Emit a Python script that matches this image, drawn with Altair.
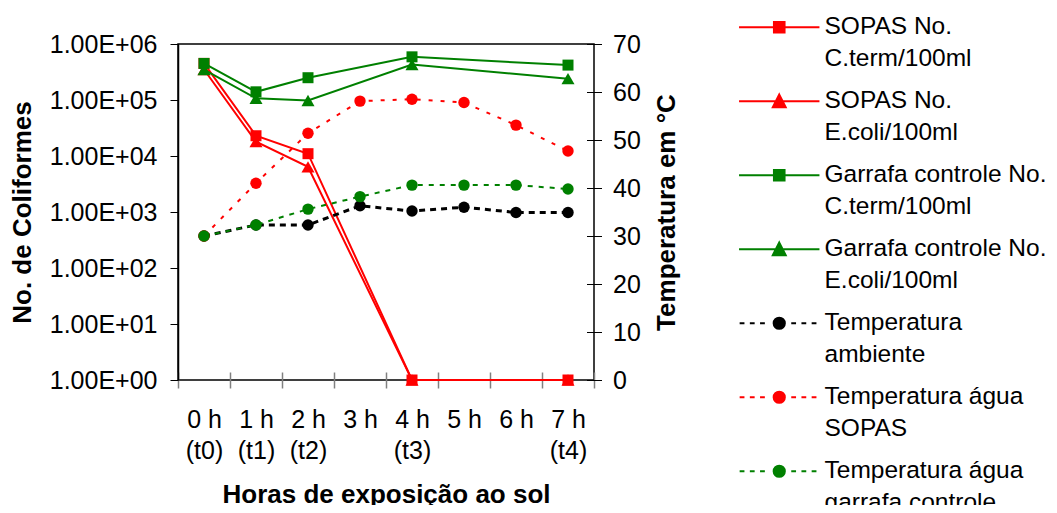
import altair as alt
import pandas as pd

# ---------------- data ----------------
horas = ["0 h", "1 h", "2 h", "3 h", "4 h", "5 h", "6 h", "7 h"]
tempos = ["(t0)", "(t1)", "(t2)", "", "(t3)", "", "", "(t4)"]
x_cats = [f"{h}|{t}" for h, t in zip(horas, tempos)]

# coliform sampling hours (t0..t4)
col_horas = [0, 1, 2, 4, 7]
sopas_cterm = [4.5e5, 2.3e4, 1.1e4, 1, 1]
sopas_ecoli = [3.5e5, 1.8e4, 6.4e3, 1, 1]
garrafa_cterm = [4.5e5, 1.4e5, 2.5e5, 5.9e5, 4.2e5]
garrafa_ecoli = [3.5e5, 1.07e5, 9.8e4, 4.3e5, 2.4e5]

# temperatures, every hour
temp_ambiente = [30, 32.3, 32.3, 36.3, 35.2, 36.0, 34.9, 34.9]
temp_sopas = [30, 41, 51.4, 58.1, 58.5, 57.8, 53.1, 47.7]
temp_garrafa = [30, 32.3, 35.6, 38.2, 40.6, 40.6, 40.6, 39.8]

serie_names = [
    "SOPAS No.|C.term/100ml",
    "SOPAS No.|E.coli/100ml",
    "Garrafa controle No.|C.term/100ml",
    "Garrafa controle No.|E.coli/100ml",
    "Temperatura|ambiente",
    "Temperatura água|SOPAS",
    "Temperatura água|garrafa controle",
]
serie_colors = ["#ff0000", "#ff0000", "#008000", "#008000", "#000000", "#ff0000", "#008000"]

FONT = "Liberation Sans"

# ---------------- encodings ----------------
X = alt.X(
    "x:N",
    sort=x_cats,
    scale=alt.Scale(type="band", domain=x_cats, paddingInner=0, paddingOuter=0),
    axis=alt.Axis(
        title="Horas de exposição ao sol",
        labelExpr="split(datum.label, '|')",
        labelAngle=0,
        tickBand="extent",
        tickSize=16,
        offset=-8,
        domain=False,
        labelPadding=19,
        labelBaseline="top",
        labelLineHeight=31,
        labelFontSize=25,
        titleFontSize=26,
        titlePadding=18,
        titleFontWeight="bold",
        tickColor="#808080",
        tickWidth=1.5,
        labelColor="black",
        titleColor="black",
        grid=False,
    ),
)

Y_COL = alt.Y(
    "valor:Q",
    scale=alt.Scale(type="log", domain=[1, 1e6], nice=False),
    axis=alt.Axis(
        title="No. de Coliformes",
        values=[1, 10, 100, 1000, 10000, 100000, 1000000],
        labelExpr="'1.00E+0' + round(log(datum.value) / LN10)",
        tickSize=8,
        labelPadding=13,
        labelFontSize=25,
        titleFontSize=26,
        titleFontWeight="bold",
        titlePadding=14,
        domainColor="black",
        domainWidth=1.5,
        tickColor="black",
        labelColor="black",
        titleColor="black",
        grid=False,
    ),
)

Y_TEMP = alt.Y(
    "valor:Q",
    scale=alt.Scale(domain=[0, 70], nice=False),
    axis=alt.Axis(
        orient="right",
        title="Temperatura em °C",
        titleAngle=270,
        titleBaseline="top",
        values=[0, 10, 20, 30, 40, 50, 60, 70],
        tickSize=15,
        offset=-7.5,
        domain=False,
        labelPadding=11,
        labelAlign="left",
        labelFontSize=25,
        titleFontSize=26,
        titleFontWeight="bold",
        titlePadding=13,
        tickColor="black",
        labelColor="black",
        titleColor="black",
        grid=False,
    ),
)


def col_df(vals):
    return pd.DataFrame({"x": [x_cats[i] for i in col_horas], "valor": vals})


def temp_df(vals):
    return pd.DataFrame({"x": x_cats, "valor": vals})


col_series = [
    (sopas_cterm, "#ff0000", "square", 121),
    (sopas_ecoli, "#ff0000", "triangle-up", 170),
    (garrafa_cterm, "#008000", "square", 121),
    (garrafa_ecoli, "#008000", "triangle-up", 170),
]
col_layers = []
for vals, c, shp, sz in col_series:
    base = alt.Chart(col_df(vals))
    col_layers.append(base.mark_line(color=c, strokeWidth=2).encode(x=X, y=Y_COL))
    col_layers.append(
        base.mark_point(shape=shp, filled=True, color=c, size=sz, opacity=1).encode(x=X, y=Y_COL)
    )

temp_series = [
    (temp_ambiente, "#000000", [6, 5], 3),
    (temp_sopas, "#ff0000", [4, 8], 2),
    (temp_garrafa, "#008000", [5, 6], 2),
]
temp_layers = []
for vals, c, dash, sw in temp_series:
    base = alt.Chart(temp_df(vals))
    temp_layers.append(
        base.mark_line(color=c, strokeWidth=sw, strokeDash=dash).encode(x=X, y=Y_TEMP)
    )
    temp_layers.append(
        base.mark_point(shape="circle", filled=True, color=c, size=130, opacity=1).encode(x=X, y=Y_TEMP)
    )

# ---------------- legend (line + marker symbols) ----------------
LINE = "M-6.7,0H6.7"
DASH = "M-6.6,0H-5.8M-4.9,0H-4.1M-3.2,0H-2.4M2.0,0H2.8M3.7,0H4.5M5.4,0H6.2"
SQ = "M-0.9,-0.9H0.9V0.9H-0.9Z"
TRI = "M0,-1.15L1.1,1.0L-1.1,1.0Z"
CIR = "M-0.95,0A0.95,0.95,0,1,0,0.95,0A0.95,0.95,0,1,0,-0.95,0Z"
shape_paths = [
    LINE + SQ,
    LINE + TRI,
    LINE + SQ,
    LINE + TRI,
    DASH + CIR,
    DASH + CIR,
    DASH + CIR,
]

leg = alt.Legend(
    title=None,
    orient="none",
    legendX=589,
    legendY=-29,
    symbolSize=144,
    symbolStrokeWidth=1.8,
    symbolOpacity=1,
    labelExpr="split(datum.label, '|')",
    labelFont=FONT,
    labelFontSize=24.5,
    labelColor="black",
    labelOffset=33,
    labelLimit=400,
    rowPadding=17,
)

legend_layer = alt.Chart(pd.DataFrame({"serie": serie_names})).mark_point(
    filled=True, opacity=0
).encode(
    shape=alt.Shape("serie:N", scale=alt.Scale(domain=serie_names, range=shape_paths), legend=leg),
    fill=alt.Fill("serie:N", scale=alt.Scale(domain=serie_names, range=serie_colors), legend=leg),
    stroke=alt.Stroke("serie:N", scale=alt.Scale(domain=serie_names, range=serie_colors), legend=leg),
)

chart = (
    alt.layer(alt.layer(*col_layers), alt.layer(*temp_layers), legend_layer)
    .resolve_scale(y="independent")
    .properties(
        width=416,
        height=336,
        padding={"left": 170, "top": 36, "right": 455, "bottom": 125},
        autosize=alt.AutoSizeParams(type="none"),
        background="white",
    )
    .configure(font=FONT, style={"guide-label": {"lineHeight": 32}})
    .configure_view(stroke="black", strokeWidth=1.5)
    .configure_axis(labelFont=FONT, titleFont=FONT)
)

chart.save("out.html", embed_options={"renderer": "svg", "actions": False})
